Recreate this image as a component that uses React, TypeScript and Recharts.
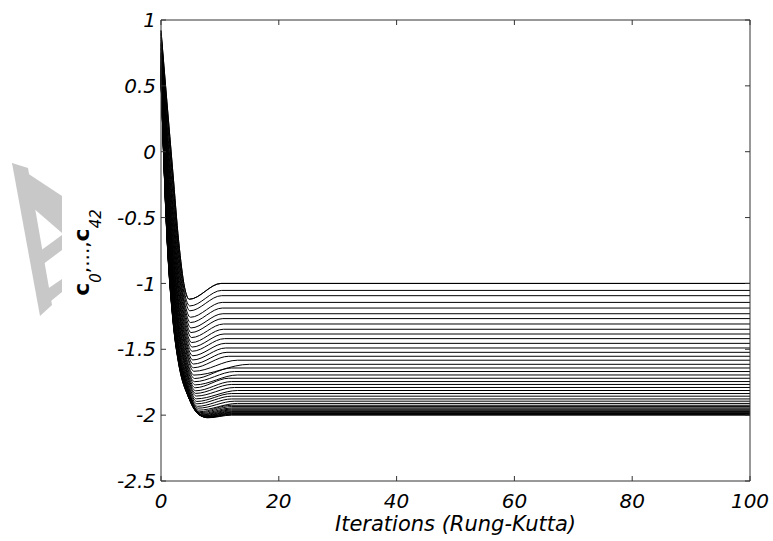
import { LineChart, Line, XAxis, YAxis } from 'recharts'

const ITER_TICKS = [0, 20, 40, 60, 80, 100]
const VALUE_TICKS = [-2.5, -2, -1.5, -1, -0.5, 0, 0.5, 1]

// c_0 ... c_42, value at iteration 0
const START = [
  0.92, 0.9, 0.89, 0.87, 0.85, 0.83, 0.82, 0.81, 0.79, 0.78,
  0.76, 0.75, 0.74, 0.73, 0.72, 0.7, 0.69, 0.68, 0.67, 0.66,
  0.65, 0.64, 0.64, 0.63, 0.62, 0.61, 0.6, 0.6, 0.59, 0.58,
  0.58, 0.57, 0.57, 0.57, 0.56, 0.56, 0.56, 0.56, 0.56, 0.55,
  0.55, 0.55, 0.55,
]
const AT1 = [
  0.38, 0.33, 0.29, 0.23, 0.19, 0.15, 0.11, 0.07, 0.03, -0.01,
  -0.05, -0.08, -0.12, -0.15, -0.18, -0.21, -0.25, -0.27, -0.3, -0.33,
  -0.35, -0.38, -0.4, -0.43, -0.45, -0.47, -0.49, -0.51, -0.53, -0.55,
  -0.56, -0.57, -0.58, -0.59, -0.6, -0.61, -0.61, -0.62, -0.62, -0.63,
  -0.63, -0.64, -0.64,
]
const AT2 = [
  -0.15, -0.21, -0.25, -0.31, -0.36, -0.41, -0.45, -0.49, -0.54, -0.58,
  -0.62, -0.66, -0.7, -0.74, -0.77, -0.8, -0.84, -0.87, -0.9, -0.93,
  -0.96, -0.98, -1.01, -1.03, -1.06, -1.09, -1.11, -1.13, -1.15, -1.17,
  -1.19, -1.2, -1.21, -1.22, -1.23, -1.23, -1.24, -1.25, -1.25, -1.26,
  -1.26, -1.27, -1.27,
]
const AT3 = [
  -0.68, -0.73, -0.77, -0.81, -0.85, -0.89, -0.93, -0.97, -1.0, -1.04,
  -1.07, -1.1, -1.14, -1.17, -1.19, -1.22, -1.25, -1.28, -1.3, -1.33,
  -1.35, -1.37, -1.39, -1.41, -1.44, -1.46, -1.48, -1.5, -1.51, -1.53,
  -1.54, -1.55, -1.56, -1.57, -1.57, -1.58, -1.58, -1.59, -1.59, -1.6,
  -1.6, -1.61, -1.61,
]
const AT4 = [
  -1.03, -1.07, -1.1, -1.14, -1.17, -1.2, -1.23, -1.26, -1.29, -1.32,
  -1.35, -1.38, -1.4, -1.43, -1.45, -1.47, -1.5, -1.52, -1.54, -1.56,
  -1.58, -1.6, -1.61, -1.63, -1.65, -1.67, -1.68, -1.7, -1.71, -1.72,
  -1.73, -1.74, -1.75, -1.75, -1.76, -1.77, -1.77, -1.77, -1.78, -1.78,
  -1.78, -1.79, -1.79,
]
// lowest point of each curve
const DIP_X = [
  4.8, 4.9, 4.9, 5.0, 5.0, 5.1, 5.1, 5.2, 5.2, 5.3,
  5.3, 5.4, 5.4, 5.5, 5.5, 5.6, 5.6, 5.7, 5.7, 5.8,
  5.8, 5.9, 5.9, 6.0, 6.0, 6.1, 6.1, 6.2, 6.3, 6.4,
  6.5, 6.6, 6.7, 6.8, 6.9, 7.0, 7.1, 7.2, 7.4, 7.5,
  7.7, 7.8, 8.0,
]
const DIP_Y = [
  -1.12, -1.171, -1.208, -1.257, -1.297, -1.338, -1.373, -1.411, -1.449, -1.483,
  -1.515, -1.549, -1.581, -1.612, -1.64, -1.667, -1.696, -1.722, -1.746, -1.77,
  -1.792, -1.815, -1.835, -1.855, -1.876, -1.896, -1.914, -1.933, -1.947, -1.962,
  -1.974, -1.981, -1.989, -1.995, -1.999, -2.004, -2.007, -2.01, -2.013, -2.015,
  -2.017, -2.019, -2.02,
]
// iteration where each curve has settled
const SETTLE_X = [
  10.2, 10.3, 10.3, 10.4, 10.4, 10.5, 10.5, 10.6, 10.6, 10.7,
  10.8, 10.9, 11.0, 11.2, 11.5, 13.0, 15.0, 12.0, 12.5, 13.0,
  11.5, 12.0, 12.0, 12.5, 13.0, 12.0, 12.0, 12.0, 12.5, 13.0,
  12.0, 12.0, 12.0, 12.0, 12.0, 12.0, 12.0, 12.0, 12.0, 12.0,
  12.0, 12.0, 12.0,
]
const FINAL = [
  -1.0, -1.053, -1.093, -1.144, -1.187, -1.23, -1.267, -1.308, -1.348, -1.384,
  -1.419, -1.455, -1.49, -1.523, -1.553, -1.583, -1.614, -1.642, -1.669, -1.695,
  -1.72, -1.745, -1.767, -1.79, -1.813, -1.836, -1.856, -1.877, -1.894, -1.911,
  -1.925, -1.935, -1.945, -1.953, -1.96, -1.967, -1.973, -1.978, -1.983, -1.988,
  -1.992, -1.996, -2.0,
]

const series = FINAL.map((f, k) => [
  { x: 0, y: START[k] },
  { x: 1, y: AT1[k] },
  { x: 2, y: AT2[k] },
  { x: 3, y: AT3[k] },
  { x: 4, y: AT4[k] },
  { x: DIP_X[k], y: DIP_Y[k] },
  { x: SETTLE_X[k], y: f },
  { x: 100, y: f },
])

const FONT = 'DejaVu Sans'
const AXIS = '#333'
const tickStyle = { fill: '#000', fontSize: 20, fontStyle: 'italic', fontFamily: FONT }

const XTitle = (p: any) => {
  const vb = p.viewBox
  return (
    <text
      x={vb.x + vb.width / 2}
      y={vb.y + 50}
      textAnchor="middle"
      fontFamily={FONT}
      fontStyle="italic"
      fontSize={21}
      fill="#000"
    >
      Iterations (Rung-Kutta)
    </text>
  )
}

const YTitle = (p: any) => {
  const vb = p.viewBox
  const cx = vb.x + 89
  const cy = vb.y + vb.height / 2 + 2
  return (
    <text
      x={cx}
      y={cy}
      transform={`rotate(-90 ${cx} ${cy})`}
      textAnchor="middle"
      fontFamily={FONT}
      fill="#000"
    >
      <tspan fontWeight="bold" fontSize={22}>c</tspan>
      <tspan fontStyle="italic" fontSize={15} dy={12}>0</tspan>
      <tspan fontSize={20} dy={-12}>,...,</tspan>
      <tspan fontWeight="bold" fontSize={22}>c</tspan>
      <tspan fontStyle="italic" fontSize={15} dy={12}>42</tspan>
    </text>
  )
}

export default function App() {
  return (
    <div style={{ position: 'fixed', left: 0, top: 0, width: 773, height: 541, background: '#fff' }}>
      <LineChart width={773} height={541} margin={{ top: 19, right: 22, bottom: 0, left: 0 }}>
        <XAxis
          xAxisId="b"
          type="number"
          dataKey="x"
          domain={[0, 100]}
          ticks={ITER_TICKS}
          height={60}
          stroke={AXIS}
          tickSize={-5}
          tickMargin={18}
          tick={tickStyle}
          label={{ content: XTitle }}
        />
        <XAxis
          xAxisId="t"
          orientation="top"
          type="number"
          dataKey="x"
          domain={[0, 100]}
          ticks={ITER_TICKS}
          height={1}
          stroke={AXIS}
          tickSize={-5}
          tickFormatter={() => ''}
        />
        <YAxis
          yAxisId="l"
          type="number"
          domain={[-2.5, 1]}
          ticks={VALUE_TICKS}
          width={161}
          stroke={AXIS}
          tickSize={-5}
          tickMargin={10}
          tick={tickStyle}
          label={{ content: YTitle }}
        />
        <YAxis
          yAxisId="r"
          orientation="right"
          type="number"
          domain={[-2.5, 1]}
          ticks={VALUE_TICKS}
          width={1}
          stroke={AXIS}
          tickSize={-5}
          tickFormatter={() => ''}
        />
        {series.map((d, k) => (
          <Line
            key={k}
            xAxisId="b"
            yAxisId="l"
            data={d}
            dataKey="y"
            type="monotone"
            stroke="#000"
            strokeWidth={1}
            dot={false}
            activeDot={false}
            isAnimationActive={false}
          />
        ))}
        {/* same curve on the top/right axes so the frame is drawn */}
        <Line
          xAxisId="t"
          yAxisId="r"
          data={series[0]}
          dataKey="y"
          type="monotone"
          stroke="#000"
          strokeWidth={1}
          dot={false}
          activeDot={false}
          isAnimationActive={false}
        />
      </LineChart>
      {/* grey watermark at the left edge */}
      <svg width={70} height={330} style={{ position: 'absolute', left: 0, top: 0, pointerEvents: 'none' }}>
        <g fill="#c8c8c8">
          <polygon points="12,163 28,168 52,305 40,316" />
          <polygon points="12,163 62,196 62,233 32,207" />
          <polygon points="36,254 62,235 62,250 38,268" />
          <polygon points="43,292 62,279 62,292 46,305" />
        </g>
      </svg>
    </div>
  )
}
